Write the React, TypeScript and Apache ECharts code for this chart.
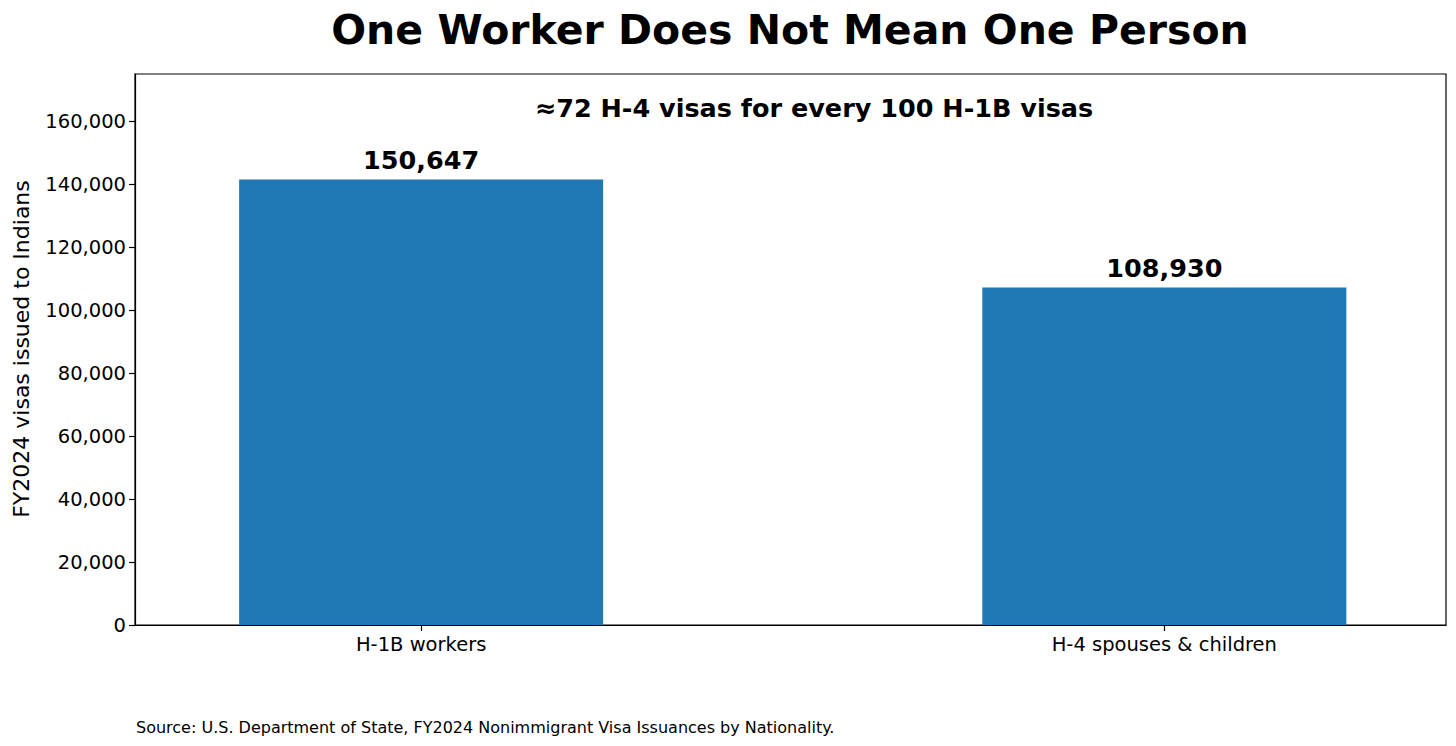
import React, { useEffect, useRef } from "react";
import * as echarts from "echarts";

const categories = ["H-1B workers", "H-4 spouses & children"];
const barValues = [141500, 107200];
const barLabels = ["150,647", "108,930"];
const yTicks = [0, 20000, 40000, 60000, 80000, 100000, 120000, 140000, 160000];
const titleText = "One Worker Does Not Mean One Person";
const subtitleText = "≈72 H-4 visas for every 100 H-1B visas";
const yAxisTitle = "FY2024 visas issued to Indians";
const sourceText = "Source: U.S. Department of State, FY2024 Nonimmigrant Visa Issuances by Nationality.";

const FONT = "DejaVu Sans";

export default function App() {
  const ref = useRef<HTMLDivElement>(null);
  useEffect(() => {
    if (!ref.current) return;
    const chart = echarts.init(ref.current, null, { renderer: "svg" });
    const xIdx = categories.map((_, i) => i);
    chart.setOption({
      animation: false,
      backgroundColor: "#ffffff",
      textStyle: { fontFamily: FONT },
      grid: {
        left: 135,
        right: 10,
        top: 74,
        bottom: 121,
        show: true,
        borderColor: "#000",
        borderWidth: 1.2,
        containLabel: false,
      },
      xAxis: {
        type: "value",
        min: -0.385,
        max: 1.379,
        splitLine: { show: false },
        axisLine: { show: true, onZero: false, lineStyle: { color: "#000", width: 1.2 } },
        axisTick: {
          show: true,
          length: 6,
          customValues: xIdx,
          lineStyle: { color: "#000", width: 1.2 },
        },
        axisLabel: {
          customValues: xIdx,
          formatter: (v: number) => categories[Math.round(v)] ?? "",
          color: "#000",
          fontSize: 19.5,
          fontFamily: FONT,
          margin: 9,
        },
      },
      yAxis: {
        type: "value",
        min: 0,
        max: 175000,
        interval: 20000,
        splitLine: { show: false },
        axisLine: { show: true, onZero: false, lineStyle: { color: "#000", width: 1.2 } },
        axisTick: {
          show: true,
          length: 6,
          customValues: yTicks,
          lineStyle: { color: "#000", width: 1.2 },
        },
        axisLabel: {
          customValues: yTicks,
          formatter: (v: number) => v.toLocaleString("en-US"),
          color: "#000",
          fontSize: 19.5,
          fontFamily: FONT,
          margin: 9,
        },
      },
      series: [
        {
          type: "bar",
          data: barValues.map((v, i) => [i, v]),
          barWidth: 364,
          itemStyle: { color: "#1f77b4" },
          label: {
            show: true,
            position: "top",
            distance: 6,
            formatter: (p: any) => barLabels[p.dataIndex],
            color: "#000",
            fontSize: 25.5,
            fontWeight: "bold",
            fontFamily: FONT,
          },
        },
      ],
      graphic: [
        {
          type: "text",
          x: 790,
          y: 30,
          style: {
            text: titleText,
            fontSize: 41,
            fontWeight: "bold",
            fontFamily: FONT,
            fill: "#000",
            align: "center",
            verticalAlign: "middle",
          },
        },
        {
          type: "text",
          x: 814,
          y: 108,
          style: {
            text: subtitleText,
            fontSize: 25.5,
            fontWeight: "bold",
            fontFamily: FONT,
            fill: "#000",
            align: "center",
            verticalAlign: "middle",
          },
        },
        {
          type: "text",
          x: 21,
          y: 349,
          rotation: Math.PI / 2,
          style: {
            text: yAxisTitle,
            fontSize: 22,
            fontFamily: FONT,
            fill: "#000",
            align: "center",
            verticalAlign: "middle",
          },
        },
        {
          type: "text",
          x: 136,
          y: 727,
          style: {
            text: sourceText,
            fontSize: 16,
            fontFamily: FONT,
            fill: "#000",
            align: "left",
            verticalAlign: "middle",
          },
        },
      ],
    });
    return () => chart.dispose();
  }, []);
  return (
    <div
      ref={ref}
      style={{ position: "fixed", left: 0, top: 0, width: 1456, height: 746 }}
    />
  );
}
